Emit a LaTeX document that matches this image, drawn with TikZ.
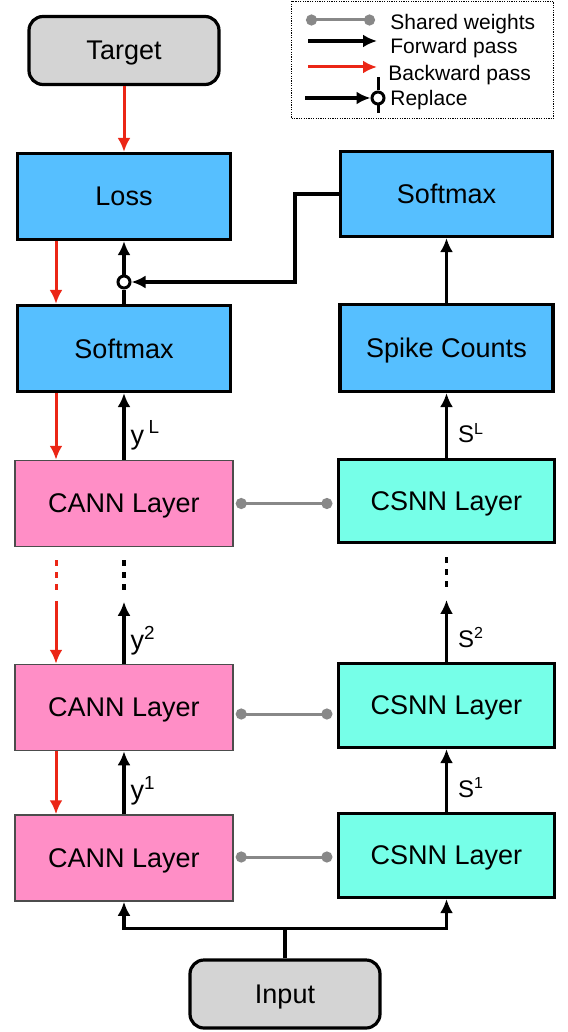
\documentclass[tikz,border=0pt]{standalone}
\usepackage{fontspec}
\setsansfont{Liberation Sans}
\usepackage{tikz}
\usetikzlibrary{shapes,arrows.meta,positioning,calc}
\definecolor{skyblue}{RGB}{86,191,255}
\definecolor{annpink}{RGB}{255,142,198}
\definecolor{snncyan}{RGB}{118,255,232}
\definecolor{boxgray}{RGB}{212,212,212}
\definecolor{backred}{RGB}{235,38,22}
\definecolor{wgray}{RGB}{136,136,136}
\tikzset{every picture/.style={/utils/exec={\sffamily}}}

\begin{document}
\begin{tikzpicture}[x=0.5pt, y=-0.5pt, auto, >={Latex[length=7pt,width=6.5pt]},
   block/.style={draw, line width=1.6pt, fill=skyblue, minimum width=106.5pt, minimum height=43pt, inner sep=0pt, text depth=0pt, font=\fontsize{13.5}{16}\selectfont},
   term/.style={block, fill=boxgray, rounded corners=7pt, minimum width=95pt, minimum height=34pt},
   cann/.style={block, fill=annpink, draw=black!70, line width=0.75pt, minimum width=109pt},
   csnn/.style={block, fill=snncyan, minimum width=108pt, minimum height=42pt},
   fwd/.style={draw, line width=1.6pt, ->},
   back/.style={draw=backred, line width=1.5pt, ->},
   gap/.style={dash pattern=on 3pt off 3pt},
   shared/.style={draw=wgray, line width=1.5pt, {Circle[length=5.5pt]}-{Circle[length=5.5pt]}},
   repl/.style={circle, draw, line width=1.5pt, fill=white, minimum size=6pt, inner sep=0pt},
   ylbl/.style={anchor=base west, inner sep=0pt, xshift=2.5pt, font=\fontsize{13.5}{16}\selectfont},
   slbl/.style={anchor=base west, inner sep=0pt, xshift=5pt, font=\fontsize{12}{14}\selectfont},
   legtext/.style={anchor=base west, inner sep=0pt, font=\fontsize{10.5}{12}\selectfont}]

    \useasboundingbox (0,0) rectangle (567,1032);

    % Place nodes
    \node [term] (target) at (124,50.5) {Target};
    \node [block] (loss) at (124,196.5) {Loss};
    \node [block] (softL) at (124,348.5) {Softmax};
    \node [block, minimum width=106pt, minimum height=42.5pt] (softR) at (446.5,194) {Softmax};
    \node [block, minimum height=43.5pt] (spike) at (446.5,348) {Spike Counts};
    \node [cann] (cann1) at (124,503.5) {CANN Layer};
    \node [cann] (cann2) at (124,707.5) {CANN Layer};
    \node [cann] (cann3) at (124,858) {CANN Layer};
    \node [csnn, minimum height=41.5pt] (csnn1) at (446.5,501) {CSNN Layer};
    \node [csnn] (csnn2) at (446.5,705.5) {CSNN Layer};
    \node [csnn] (csnn3) at (446.5,855.5) {CSNN Layer};
    \node [term] (input) at (285,994) {Input};
    \node [repl] (rep) at (124,282) {};
    \coordinate (bx) at (56,0);

    % Draw edges
    % backward pass
    \draw [back] (target) -- (loss);
    \draw [back] (loss.south -| bx) -- (softL.north -| bx);
    \draw [back] (softL.south -| bx) -- (cann1.north -| bx);
    \draw [back, -, gap] ($(cann1.south -| bx)+(0,13)$) -- ++(0,30);
    \draw [back] ($(cann2.north -| bx)+(0,-63)$) -- (cann2.north -| bx);
    \draw [back] (cann2.south -| bx) -- (cann3.north -| bx);

    % forward pass
    \draw [fwd] (input.north) -- ++(0,-30) -| (cann3.south);
    \draw [fwd] (input.north) -- ++(0,-30) -| (csnn3.south);
    \draw [fwd] (cann3) -- (cann2) node [ylbl, pos=.23] {y\textsuperscript{1}};
    \draw [fwd] (cann2.north) -- ++(0,-62) node [ylbl, pos=.23] {y\textsuperscript{2}};
    \draw [fwd, -, gap] ($(cann1.south)+(0,13)$) -- ++(0,30);
    \draw [fwd] (cann1) -- (softL) node [ylbl, pos=.23] {y\,\textsuperscript{L}};
    \draw [fwd, -] (softL) -- (rep);
    \draw [fwd] (rep) -- (loss);
    \draw [fwd] (csnn3) -- (csnn2) node [slbl, pos=.23] {S\textsuperscript{1}};
    \draw [fwd] (csnn2.north) -- ++(0,-62) node [slbl, pos=.23] {S\textsuperscript{2}};
    \draw [fwd, -, gap] ($(csnn1.south)+(0,13)$) -- ++(0,30);
    \draw [fwd] (csnn1) -- (spike) node [slbl, pos=.23] {S\textsuperscript{L}};
    \draw [fwd] (spike) -- (softR);
    \draw [fwd] (softR.west) -- ++(-44,0) |- (rep.east);

    % shared weights
    \draw [shared] ($(cann1.east)+(2,0)$) -- ($(cann1.east -| csnn1.west)+(-4.5,0)$);
    \draw [shared] ($(cann2.east)+(2,6.5)$) -- ($(cann2.east -| csnn2.west)+(-4.5,6.5)$);
    \draw [shared] ($(cann3.east)+(2,-1)$) -- ($(cann3.east -| csnn3.west)+(-4.5,-1)$);

    % legend
    \node [draw, line width=.5pt, dash pattern=on .6pt off .6pt, minimum width=131pt, minimum height=58.5pt, inner sep=0pt] (legend) at (422.5,60) {};
    \node [legtext] (lshared) at (390,30) {Shared weights};
    \node [legtext] (lfwd) at (390,54) {Forward pass};
    \node [legtext] (lback) at (388,81) {Backward pass};
    \node [legtext] (lrepl) at (390,106) {Replace};
    \draw [shared] ($(lshared.base west)+(-84,-10)$) -- ($(lshared.base west)+(-15,-10)$);
    \draw [fwd] ($(lfwd.base west)+(-82,-13)$) -- ($(lfwd.base west)+(-13,-13)$);
    \draw [back] ($(lback.base west)+(-80,-14)$) -- ($(lback.base west)+(-11,-14)$);
    \node [repl] (lrep) at ($(lrepl.base west)+(-12,-8)$) {};
    \draw [fwd] ($(lrep)+(-73,0)$) -- (lrep);
    \draw [line width=1.5pt] (lrep.north) -- ++(0,-13);
    \draw [line width=1.5pt] (lrep.south) -- ++(0,8);
\end{tikzpicture}
\end{document}
